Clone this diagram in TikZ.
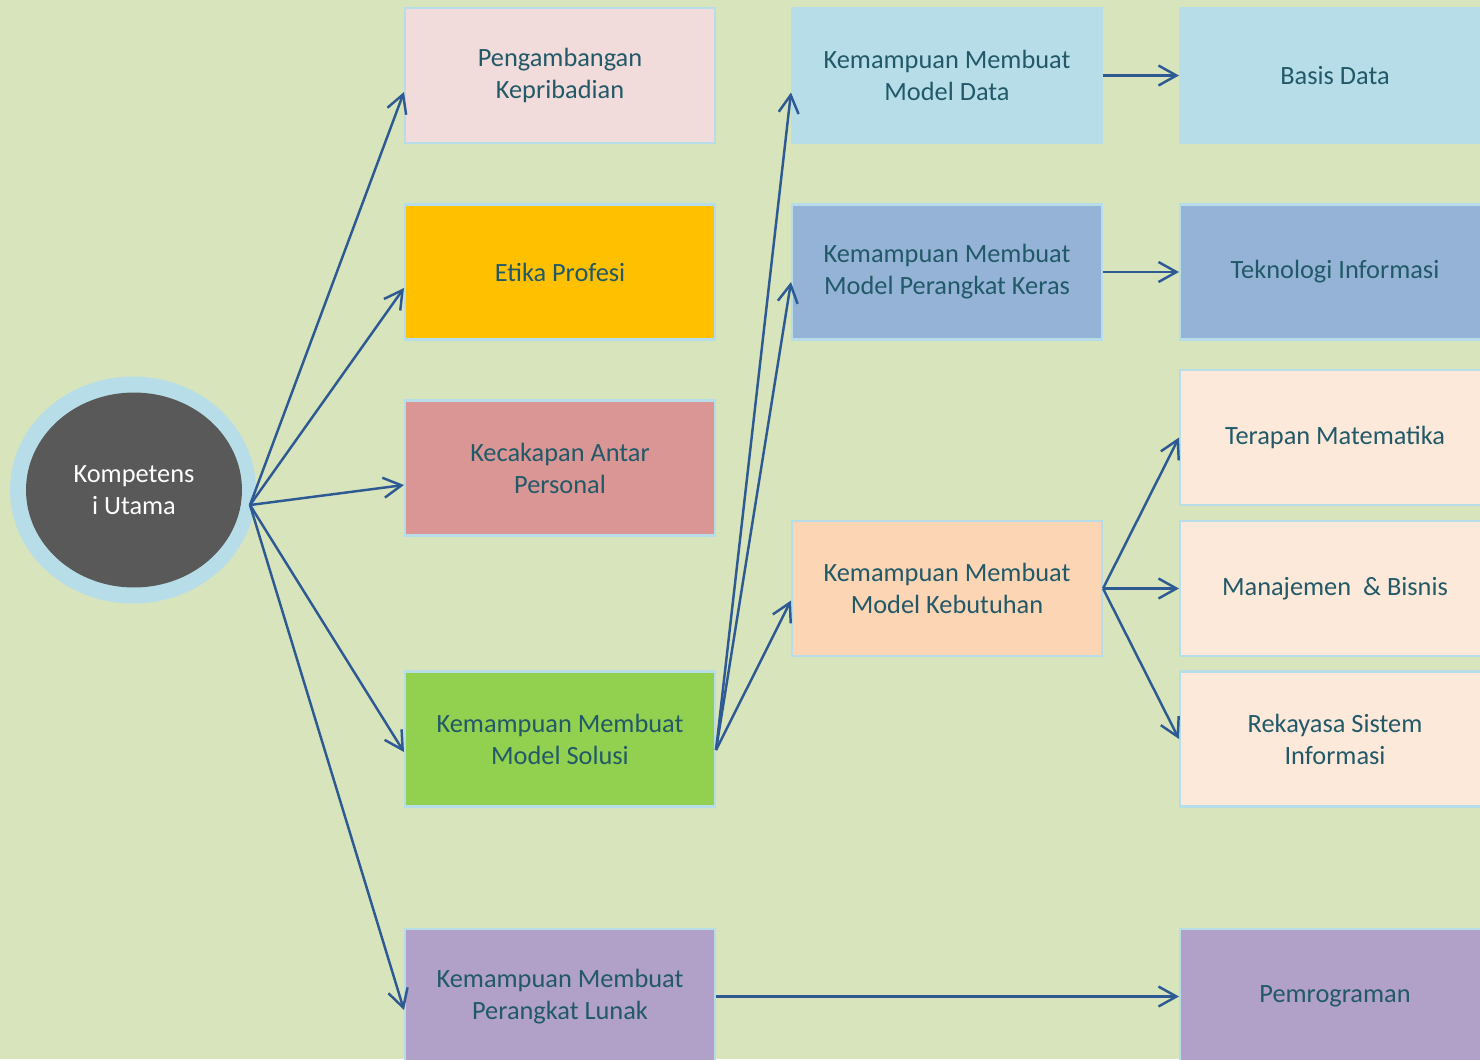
\documentclass[tikz,border=0pt]{standalone}
\usepackage{fontspec}
\setmainfont{Carlito}
\usetikzlibrary{arrows.meta,calc,shapes.geometric}

\definecolor{latar}{HTML}{D8E4BC}
\definecolor{garis}{HTML}{B7DEE8}
\definecolor{teks}{HTML}{215968}
\definecolor{biru}{HTML}{2E5A94}
\definecolor{abu}{HTML}{595959}

\tikzset{
	kotak/.style={draw=garis,line width=1.2pt,minimum width=6.2cm,minimum height=2.7cm,
		align=center,text=teks,font=\fontsize{15}{18.2}\selectfont},
	panah/.style={draw=biru,line width=1.4pt,-{Straight Barb[length=3.6mm,width=4mm]}}
}

\begin{document}
\begin{tikzpicture}[x=0.02cm,y=-0.02cm] % peta kompetensi

\fill[latar] (0,0) rectangle (1480,1059);
\useasboundingbox (0,0) rectangle (1480,1059);
\clip (0,0) rectangle (1480,1059);

% lingkaran utama
\node[ellipse,fill=garis,minimum width=4.92cm,minimum height=4.54cm] (luar) at (133,490) {};
\node[ellipse,fill=abu,minimum width=4.32cm,minimum height=3.9cm,align=center,text=white,
	font=\fontsize{15}{18.2}\selectfont] (utama) at (134,490) {Kompetens\\i Utama};
\coordinate (pusat) at (250,505);

% kolom kedua
\node[kotak,fill={rgb,255:red,242;green,220;blue,219}] (peng) at (560,75.5) {Pengambangan\\Kepribadian};
\node[kotak,fill={rgb,255:red,255;green,192;blue,0}] (etika) at (560,272) {Etika Profesi};
\node[kotak,fill={rgb,255:red,218;green,150;blue,148}] (antar) at (560,468) {Kecakapan Antar\\Personal};
\node[kotak,fill={rgb,255:red,146;green,208;blue,80}] (solusi) at (560,739) {Kemampuan Membuat\\Model Solusi};
\node[kotak,fill={rgb,255:red,177;green,160;blue,199}] (lunak) at (560,996.5) {Kemampuan Membuat\\Perangkat Lunak};

% kolom ketiga
\node[kotak,fill=garis] (data) at (947,75.5) {Kemampuan Membuat\\Model Data};
\node[kotak,fill={rgb,255:red,149;green,179;blue,215}] (keras) at (947,272) {Kemampuan Membuat\\Model Perangkat Keras};
\node[kotak,fill={rgb,255:red,252;green,213;blue,180}] (butuh) at (947,588.5) {Kemampuan Membuat\\Model Kebutuhan};

% kolom keempat
\node[kotak,fill=garis] (basis) at (1335,75.5) {Basis Data};
\node[kotak,fill={rgb,255:red,149;green,179;blue,215}] (ti) at (1335,272) {Teknologi Informasi};
\node[kotak,fill={rgb,255:red,253;green,233;blue,217}] (mat) at (1335,437.5) {Terapan Matematika};
\node[kotak,fill={rgb,255:red,253;green,233;blue,217}] (manaj) at (1335,588.5) {Manajemen~ \& Bisnis};
\node[kotak,fill={rgb,255:red,253;green,233;blue,217}] (rekayasa) at (1335,739) {Rekayasa Sistem\\Informasi};
\node[kotak,fill={rgb,255:red,177;green,160;blue,199}] (prog) at (1335,996.5) {Pemrograman};

% panah dari lingkaran
\draw[panah] (pusat) -- ($(peng.west)+(0,16.5)$);
\draw[panah] (pusat) -- ($(etika.west)+(0,16)$);
\draw[panah] (pusat) -- ($(antar.west)+(0,17)$);
\draw[panah] (pusat) -- ($(solusi.west)+(0,13)$);
\draw[panah] (pusat) -- ($(lunak.west)+(0,13.5)$);

% panah dari model solusi
\draw[panah] ($(solusi.east)+(0,11)$) -- ($(data.west)+(0,17)$);
\draw[panah] ($(solusi.east)+(0,11)$) -- ($(keras.west)+(0,10)$);
\draw[panah] ($(solusi.east)+(0,11)$) -- ($(butuh.west)+(0,12)$);

\draw[panah] (data.east) -- (basis.west);
\draw[panah] (keras.east) -- (ti.west);
\foreach \t in {mat,manaj,rekayasa} % tiga cabang kebutuhan
{
	\draw[panah] (butuh.east) -- (\t.west);
}
\draw[panah] (lunak.east) -- (prog.west);

\end{tikzpicture}
\end{document}
